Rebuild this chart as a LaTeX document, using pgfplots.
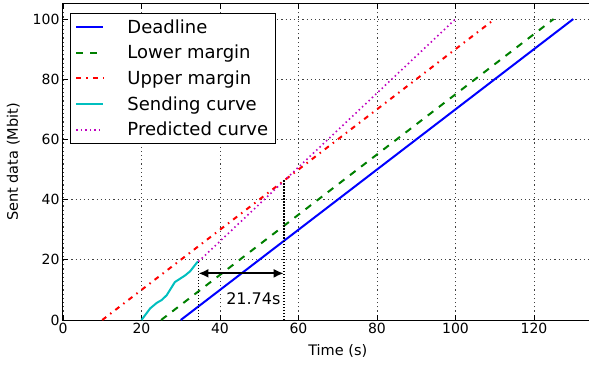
\documentclass[border=0pt]{standalone}
\usepackage{fontspec}
\setmainfont{DejaVu Sans}
\usepackage{pgfplots}
\pgfplotsset{compat=1.18}
\usetikzlibrary{arrows.meta}
\definecolor{mgreen}{rgb}{0,0.5,0}
\definecolor{mcyan}{rgb}{0,0.75,0.75}
\definecolor{mmag}{rgb}{0.75,0,0.75}
\newcommand\legfont{\fontsize{18}{20}\selectfont}
\newcommand\annfont{\fontsize{16}{19}\selectfont}
\newcommand\tickfont{\fontsize{14}{16}\selectfont}
\newcommand\labfont{\fontsize{14.5}{17}\selectfont}
\begin{document}
\begin{tikzpicture}
\begin{axis}[name=ax, scale only axis, width=549.5pt, height=316pt,
  xmin=0, xmax=140, ymin=0, ymax=105,
  xtick={0,20,...,120}, ytick={0,20,...,100},
  tick align=inside, major tick length=5pt,
  tick style={black, line width=0.8pt},
  axis line style={line width=1pt},
  grid=major, grid style={black!75, line width=0.7pt, dash pattern=on 1.2pt off 3pt},
  /pgf/number format/assume math mode=true,
  ticklabel style={font=\tickfont},
  label style={font=\labfont},
  xlabel={Time (s)}, ylabel={Sent data (Mbit)},
  xlabel style={yshift=-3pt}, ylabel style={yshift=6pt},
  legend cell align=left,
  legend image code/.code={\draw[#1] (0pt,0pt) -- (27pt,0pt);},
  legend style={at={(axis description cs:0.0127,0.9715)}, anchor=north west,
    draw=black, line width=1pt, font=\legfont,
    nodes={font=\legfont},
    row sep=6.5pt, inner xsep=5pt, inner ysep=4pt,
    /tikz/every odd column/.append style={column sep=21pt}},
]
\addplot[blue, line width=2pt] coordinates {(30,0) (130,100)};
\addlegendentry{Deadline}
\addplot[mgreen, line width=2pt, dash pattern=on 7pt off 7pt] coordinates {(25,0) (125,100)};
\addlegendentry{Lower margin}
\addplot[red, line width=2pt, dash pattern=on 5pt off 5pt on 1.5pt off 5pt] coordinates {(10,0) (110,100)};
\addlegendentry{Upper margin}
\addplot[mcyan, line width=2pt] coordinates {(20,0) (22.2,3.85) (23.9,5.7) (25.1,6.6) (26.4,8.2) (28.5,12.6) (29.8,13.7) (31.1,14.8) (32.4,16.2) (34.2,19.2) (34.5,19.4)};
\addlegendentry{Sending curve}
\addplot[mmag, line width=1.6pt, dash pattern=on 1.5pt off 3pt] coordinates {(34.5,19.4) (100,100)};
\addlegendentry{Predicted curve}
\addplot[black, line width=1.8pt, dash pattern=on 1.5pt off 1.5pt, forget plot] coordinates {(34.5,0) (34.5,19.4)};
\addplot[black, line width=1.8pt, dash pattern=on 1.5pt off 1.5pt, forget plot] coordinates {(56.24,0) (56.24,46.4)};
\draw[black, line width=2pt, {Latex[length=10pt,width=9pt]}-{Latex[length=10pt,width=9pt]}] (axis cs:34.5,15.5) -- (axis cs:56.24,15.5);
\node[font=\annfont] at (axis cs:48.5,7) {21.74s};
\end{axis}
\pgfresetboundingbox
\path[use as bounding box] ([xshift=-63pt,yshift=-47pt]ax.south west) rectangle ([xshift=526pt,yshift=4pt]ax.north west);
\end{tikzpicture}
\end{document}
